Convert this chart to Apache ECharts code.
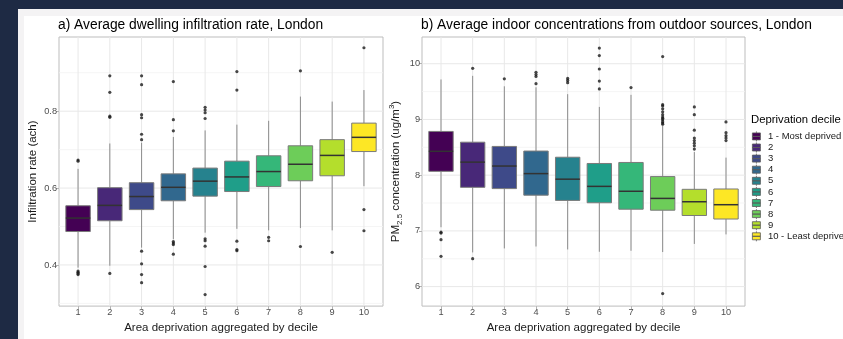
<!DOCTYPE html>
<html>
<head>
<meta charset="utf-8">
<script src="https://cdn.jsdelivr.net/npm/echarts@6/dist/echarts.min.js"></script>
<style>
  html, body { margin: 0; padding: 0; width: 843px; height: 339px; overflow: hidden; background: #1e2a44; }
  #sheet { position: absolute; left: 18px; top: 9px; right: 0; bottom: 0; background: #f4f3f4; }
  #page { position: absolute; left: 24px; top: 16px; right: 0; bottom: 0; background: #ffffff; }
  #chart { position: absolute; left: 0; top: 0; width: 843px; height: 339px; }
</style>
</head>
<body>
<div id="sheet"></div>
<div id="page"></div>
<div id="chart"></div>
<script>
// ---- Categories ----
const deciles = [1, 2, 3, 4, 5, 6, 7, 8, 9, 10];
const decileLabels = ['1 - Most deprived', '2', '3', '4', '5', '6', '7', '8', '9', '10 - Least deprived'];

// ---- a) Infiltration rate (ach): five-number summaries per decile ----
const infilLow    = [0.393, 0.398, 0.445, 0.467, 0.484, 0.494, 0.490, 0.496, 0.490, 0.605];
const infilQ1     = [0.487, 0.515, 0.544, 0.567, 0.579, 0.591, 0.604, 0.619, 0.632, 0.695];
const infilMedian = [0.522, 0.555, 0.578, 0.602, 0.618, 0.629, 0.643, 0.662, 0.685, 0.732];
const infilQ3     = [0.554, 0.601, 0.614, 0.637, 0.652, 0.670, 0.684, 0.710, 0.726, 0.769];
const infilHigh   = [0.650, 0.716, 0.718, 0.733, 0.750, 0.765, 0.775, 0.838, 0.825, 0.855];
const infilOutliers = [
  [0.673, 0.670, 0.384, 0.381, 0.378, 0.375],
  [0.892, 0.849, 0.787, 0.784, 0.378],
  [0.892, 0.869, 0.791, 0.783, 0.740, 0.726, 0.436, 0.403, 0.375, 0.354],
  [0.877, 0.778, 0.749, 0.461, 0.457, 0.453, 0.428],
  [0.810, 0.803, 0.796, 0.781, 0.468, 0.463, 0.449, 0.396, 0.323],
  [0.903, 0.855, 0.462, 0.440, 0.437],
  [0.472, 0.463],
  [0.905, 0.448],
  [0.433],
  [0.965, 0.544, 0.489]
];

// ---- b) Indoor PM2.5 from outdoor sources (ug/m3) ----
const pmLow    = [7.065, 6.614, 6.685, 6.720, 6.667, 6.625, 6.643, 6.620, 6.766, 6.937];
const pmQ1     = [8.069, 7.782, 7.759, 7.641, 7.547, 7.505, 7.389, 7.371, 7.276, 7.213];
const pmMedian = [8.428, 8.234, 8.164, 8.028, 7.928, 7.799, 7.711, 7.583, 7.523, 7.470];
const pmQ3     = [8.785, 8.592, 8.516, 8.433, 8.322, 8.210, 8.228, 7.975, 7.746, 7.752];
const pmHigh   = [9.718, 9.783, 9.595, 9.577, 9.454, 9.225, 9.442, 8.890, 8.415, 8.315];
const pmOutliers = [
  [6.977, 6.960, 6.843, 6.544],
  [9.917, 6.502],
  [9.730],
  [9.847, 9.806, 9.771, 9.642],
  [9.736, 9.701, 9.660],
  [10.282, 10.146, 9.906, 9.689, 9.548],
  [9.572],
  [10.129, 9.266, 9.243, 9.190, 9.137, 9.085, 9.044, 9.020, 8.996, 8.961, 8.935, 8.914, 5.875],
  [9.225, 9.085, 8.808, 8.667, 8.621, 8.574, 8.527, 8.468],
  [8.956, 8.762, 8.709, 8.667, 8.621]
];

// ---- Axis ticks and grid values ----
const infilTicks = [0.4, 0.6, 0.8];
const infilMinor = [0.3, 0.5, 0.7, 0.9];
const pmTicks = [6, 7, 8, 9, 10];
const pmMinor = [6.5, 7.5, 8.5, 9.5];

// ---- Styling ----
const viridis = ['#440154', '#482878', '#3E4A89', '#31688E', '#26828E',
                 '#1F9E89', '#35B779', '#6DCD59', '#B4DE2C', '#FDE725'];
const FONT = "'Liberation Sans', Arial, Helvetica, sans-serif";
const WHISKER_COLOR = '#8c8c8c';
const BOX_EDGE = '#7a7a7a';
const MEDIAN_COLOR = '#333333';
const GRID_MAJOR = '#e8e8e8';
const GRID_MINOR = '#f3f3f3';
const BOX_WIDTH = 0.77;
const X_MIN = 0.4, X_MAX = 10.6;

// Legend key: small boxplot glyph (whisker, two halves of the box, whisker)
const KEY_ICON = 'path://M4.5,0L4.5,1.5M0.5,1.5L8.5,1.5L8.5,5L0.5,5ZM0.5,5L8.5,5L8.5,8.5L0.5,8.5ZM4.5,8.5L4.5,10';

function boxRenderer(params, api) {
  const d = api.value(0);
  const pLow = api.coord([d, api.value(1)]);
  const pQ1 = api.coord([d, api.value(2)]);
  const pMed = api.coord([d, api.value(3)]);
  const pQ3 = api.coord([d, api.value(4)]);
  const pHigh = api.coord([d, api.value(5)]);
  const half = api.size([BOX_WIDTH, 0])[0] / 2;
  const cx = pMed[0];
  return {
    type: 'group',
    children: [
      { type: 'line', shape: { x1: cx, y1: pHigh[1], x2: cx, y2: pQ3[1] },
        style: { stroke: WHISKER_COLOR, lineWidth: 1 } },
      { type: 'line', shape: { x1: cx, y1: pQ1[1], x2: cx, y2: pLow[1] },
        style: { stroke: WHISKER_COLOR, lineWidth: 1 } },
      { type: 'rect', shape: { x: cx - half, y: pQ3[1], width: half * 2, height: pQ1[1] - pQ3[1] },
        style: { fill: api.visual('color'), stroke: BOX_EDGE, lineWidth: 1 } },
      { type: 'line', shape: { x1: cx - half, y1: pMed[1], x2: cx + half, y2: pMed[1] },
        style: { stroke: MEDIAN_COLOR, lineWidth: 1.5 } }
    ]
  };
}

// Panel gridlines: [orientation (0 = horizontal, 1 = vertical), value, major flag]
function gridRenderer(params, api) {
  const vertical = api.value(0) === 1;
  const v = api.value(1);
  const major = api.value(2) === 1;
  const cs = params.coordSys;
  const style = { stroke: major ? GRID_MAJOR : GRID_MINOR, lineWidth: major ? 1 : 0.8 };
  if (vertical) {
    const p = api.coord([v, 0]);
    return { type: 'line', shape: { x1: p[0], y1: cs.y, x2: p[0], y2: cs.y + cs.height }, style };
  }
  const p = api.coord([X_MIN, v]);
  return { type: 'line', shape: { x1: cs.x, y1: p[1], x2: cs.x + cs.width, y2: p[1] }, style };
}

function gridData(majorY, minorY) {
  return [
    ...minorY.map(v => [0, v, 0]),
    ...majorY.map(v => [0, v, 1]),
    ...deciles.map(d => [1, d, 1])
  ];
}

function outlierPoints(outliers) {
  const pts = [];
  outliers.forEach((list, i) => list.forEach(v => pts.push([deciles[i], v])));
  return pts;
}

const tickLabelStyle = { fontSize: 9.2, color: '#4d4d4d', fontFamily: FONT };
const axisTitleStyle = { fontSize: 11.5, color: '#1a1a1a', fontFamily: FONT };

function xAxisFor(gridIndex) {
  return {
    type: 'value', gridIndex, min: X_MIN, max: X_MAX,
    axisLine: { show: false },
    splitLine: { show: false },
    axisTick: { show: true, length: 3, customValues: deciles, lineStyle: { color: '#b3b3b3' } },
    axisLabel: { customValues: deciles, margin: 2, formatter: v => String(Math.round(v)), ...tickLabelStyle },
    name: 'Area deprivation aggregated by decile',
    nameLocation: 'middle', nameGap: 13, nameTextStyle: axisTitleStyle
  };
}

const series = [
  { type: 'custom', xAxisIndex: 0, yAxisIndex: 0, z: 1, silent: true,
    renderItem: gridRenderer, data: gridData(infilTicks, infilMinor) },
  { type: 'custom', xAxisIndex: 1, yAxisIndex: 1, z: 1, silent: true,
    renderItem: gridRenderer, data: gridData(pmTicks, pmMinor) }
];

deciles.forEach((d, i) => {
  series.push({
    type: 'custom', name: decileLabels[i], xAxisIndex: 0, yAxisIndex: 0, z: 2,
    itemStyle: { color: viridis[i] },
    encode: { x: 0, y: [1, 2, 3, 4, 5] },
    renderItem: boxRenderer,
    data: [[d, infilLow[i], infilQ1[i], infilMedian[i], infilQ3[i], infilHigh[i]]]
  });
  series.push({
    type: 'custom', name: decileLabels[i], xAxisIndex: 1, yAxisIndex: 1, z: 2,
    itemStyle: { color: viridis[i] },
    encode: { x: 0, y: [1, 2, 3, 4, 5] },
    renderItem: boxRenderer,
    data: [[d, pmLow[i], pmQ1[i], pmMedian[i], pmQ3[i], pmHigh[i]]]
  });
});

series.push({
  type: 'scatter', name: 'outliers-a', xAxisIndex: 0, yAxisIndex: 0, z: 3,
  symbol: 'circle', symbolSize: 3.2, itemStyle: { color: '#1a1a1a' },
  data: outlierPoints(infilOutliers)
});
series.push({
  type: 'scatter', name: 'outliers-b', xAxisIndex: 1, yAxisIndex: 1, z: 3,
  symbol: 'circle', symbolSize: 3.2, itemStyle: { color: '#1a1a1a' },
  data: outlierPoints(pmOutliers)
});

const chart = echarts.init(document.getElementById('chart'), null, { renderer: 'canvas' });
chart.setOption({
  animation: false,
  backgroundColor: 'transparent',
  textStyle: { fontFamily: FONT },
  title: [
    { text: 'a) Average dwelling infiltration rate, London', left: 58, top: 18, padding: 0,
      textStyle: { fontSize: 13.8, fontWeight: 'normal', color: '#000', fontFamily: FONT } },
    { text: 'b) Average indoor concentrations from outdoor sources, London', left: 421, top: 18, padding: 0,
      textStyle: { fontSize: 13.8, fontWeight: 'normal', color: '#000', fontFamily: FONT } },
    { text: 'Deprivation decile', left: 751, top: 114, padding: 0,
      textStyle: { fontSize: 11.3, fontWeight: 'normal', color: '#000', fontFamily: FONT } }
  ],
  legend: {
    data: decileLabels, orient: 'vertical', left: 752, top: 131, padding: 0,
    itemWidth: 9, itemHeight: 10, itemGap: 0.3, icon: KEY_ICON, selectedMode: false,
    itemStyle: { borderColor: '#5a5a5a', borderWidth: 0.8 },
    textStyle: { fontSize: 9.5, color: '#1a1a1a', fontFamily: FONT, lineHeight: 10, padding: [0, 0, 0, 2] }
  },
  grid: [
    { left: 59, top: 37, width: 324, height: 275, show: true, backgroundColor: '#fff',
      borderColor: '#bdbdbd', borderWidth: 1 },
    { left: 422, top: 37, width: 323, height: 275, show: true, backgroundColor: '#fff',
      borderColor: '#bdbdbd', borderWidth: 1 }
  ],
  xAxis: [xAxisFor(0), xAxisFor(1)],
  yAxis: [
    { type: 'value', gridIndex: 0, min: 0.293, max: 0.993,
      axisLine: { show: false }, splitLine: { show: false },
      axisTick: { show: true, length: 3, customValues: infilTicks, lineStyle: { color: '#b3b3b3' } },
      axisLabel: { customValues: infilTicks, margin: 2, formatter: v => v.toFixed(1), ...tickLabelStyle },
      name: 'Infiltration rate (ach)', nameLocation: 'middle', nameGap: 20, nameTextStyle: axisTitleStyle },
    { type: 'value', gridIndex: 1, min: 5.65, max: 10.48,
      axisLine: { show: false }, splitLine: { show: false },
      axisTick: { show: true, length: 3, customValues: pmTicks, lineStyle: { color: '#b3b3b3' } },
      axisLabel: { customValues: pmTicks, margin: 2, formatter: v => String(Math.round(v)), ...tickLabelStyle },
      name: '{t|PM}{sub|2.5}{t| concentration (ug/m}{sup|3}{t|)}', nameLocation: 'middle', nameGap: 18,
      nameTextStyle: {
        ...axisTitleStyle,
        rich: {
          t: { fontSize: 11.5, color: '#1a1a1a', fontFamily: FONT, lineHeight: 16, verticalAlign: 'middle' },
          sub: { fontSize: 8, color: '#1a1a1a', fontFamily: FONT, lineHeight: 16, verticalAlign: 'bottom' },
          sup: { fontSize: 8, color: '#1a1a1a', fontFamily: FONT, lineHeight: 16, verticalAlign: 'top' }
        }
      } }
  ],
  series
});
</script>
</body>
</html>
